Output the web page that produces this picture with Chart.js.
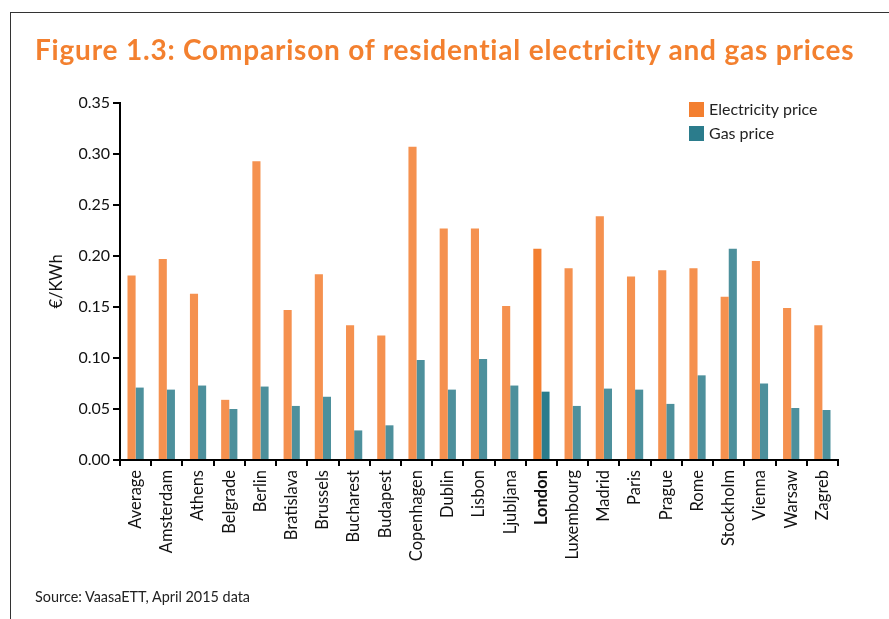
<!DOCTYPE html>
<html>
<head>
<meta charset="utf-8">
<script src="https://cdn.jsdelivr.net/npm/chart.js@4.4.1/dist/chart.umd.min.js"></script>
<style>
  html, body { margin: 0; padding: 0; background: #fff; }
  body { width: 889px; height: 619px; position: relative; overflow: hidden; font-family: Lato, "Open Sans", sans-serif; }
  #frame { position: absolute; left: 10px; top: 12px; right: -5px; bottom: -5px; border-left: 1px solid #333; border-top: 1px solid #333; }
  #title { position: absolute; left: 35px; top: 32px; font-size: 28px; letter-spacing: 0.8px; font-weight: bold; color: #F3802F; white-space: nowrap; }
  #source { position: absolute; left: 35px; top: 588px; font-size: 14.4px; color: #222; white-space: nowrap; }
  canvas { position: absolute; left: 0; top: 0; }
</style>
</head>
<body>
<div id="frame"></div>
<canvas id="c" width="889" height="619"></canvas>
<div id="title">Figure 1.3: Comparison of residential electricity and gas prices</div>
<div id="source">Source: VaasaETT, April 2015 data</div>
<script>
const cities = ["Average","Amsterdam","Athens","Belgrade","Berlin","Bratislava","Brussels","Bucharest","Budapest","Copenhagen","Dublin","Lisbon","Ljubljana","London","Luxembourg","Madrid","Paris","Prague","Rome","Stockholm","Vienna","Warsaw","Zagreb"];
const electricityPrice = [0.181,0.197,0.163,0.059,0.293,0.147,0.182,0.132,0.122,0.307,0.227,0.227,0.151,0.207,0.188,0.239,0.180,0.186,0.188,0.160,0.195,0.149,0.132];
const gasPrice = [0.071,0.069,0.073,0.050,0.072,0.053,0.062,0.029,0.034,0.098,0.069,0.099,0.073,0.067,0.053,0.070,0.069,0.055,0.083,0.207,0.075,0.051,0.049];
const yTicks = [0, 0.05, 0.10, 0.15, 0.20, 0.25, 0.30, 0.35];
const highlightCity = "London";

const FONT = 'Lato, "Open Sans", sans-serif';
const elecLight = '#F5914F', elecStrong = '#F37F30';
const gasLight = '#4D909C', gasStrong = '#2B7C8C';

const colorsFor = (light, strong) => cities.map(c => c === highlightCity ? strong : light);

// Legend drawn in the upper right of the plot
const legendPlugin = {
  id: 'cornerLegend',
  afterDraw(chart) {
    const ctx = chart.ctx;
    const x0 = 689, y0 = 102, box = 15, gap = 24;
    ctx.save();
    ctx.font = '16px ' + FONT;
    ctx.textBaseline = 'middle';
    chart.data.datasets.forEach((ds, i) => {
      const y = y0 + i * gap;
      ctx.fillStyle = ds.legendColor;
      ctx.fillRect(x0, y, box, box);
      ctx.fillStyle = '#222';
      ctx.fillText(ds.label, x0 + box + 5, y + box / 2);
    });
    ctx.restore();
  }
};

new Chart(document.getElementById('c'), {
  type: 'bar',
  data: {
    labels: cities,
    datasets: [
      { label: 'Electricity price', data: electricityPrice, backgroundColor: colorsFor(elecLight, elecStrong), legendColor: elecStrong },
      { label: 'Gas price', data: gasPrice, backgroundColor: colorsFor(gasLight, gasStrong), legendColor: gasStrong }
    ]
  },
  options: {
    responsive: false,
    devicePixelRatio: 1,
    animation: false,
    layout: { padding: { left: 0, right: 51, top: 103, bottom: 0 } },
    datasets: { bar: { categoryPercentage: 0.52, barPercentage: 1.0 } },
    plugins: { legend: { display: false }, tooltip: { enabled: false } },
    scales: {
      x: {
        grid: { display: true, drawOnChartArea: false, drawTicks: true, tickLength: 6, color: '#000', lineWidth: 2, offset: true },
        border: { display: true, color: '#000', width: 2 },
        ticks: {
          color: '#111', minRotation: 90, maxRotation: 90, autoSkip: false, padding: 4,
          font: (ctx) => ({ family: FONT, size: 16.5, weight: cities[ctx.index] === highlightCity ? 'bold' : 'normal' })
        },
        afterFit(scale) { scale.height = 159; }
      },
      y: {
        min: 0, max: 0.35,
        afterBuildTicks(scale) { scale.ticks = yTicks.map(v => ({ value: v })); },
        grid: { display: true, drawOnChartArea: false, drawTicks: true, tickLength: 7, color: '#000', lineWidth: 2 },
        border: { display: true, color: '#000', width: 2 },
        ticks: { color: '#111', padding: 3, font: { family: FONT, size: 16 }, callback: v => Number(v).toFixed(2) },
        title: { display: true, text: '€/KWh', color: '#111', font: { family: FONT, size: 16.5 }, padding: { top: 47, bottom: 0 } },
        afterFit(scale) { scale.width = 120; }
      }
    }
  },
  plugins: [legendPlugin]
});
</script>
</body>
</html>
